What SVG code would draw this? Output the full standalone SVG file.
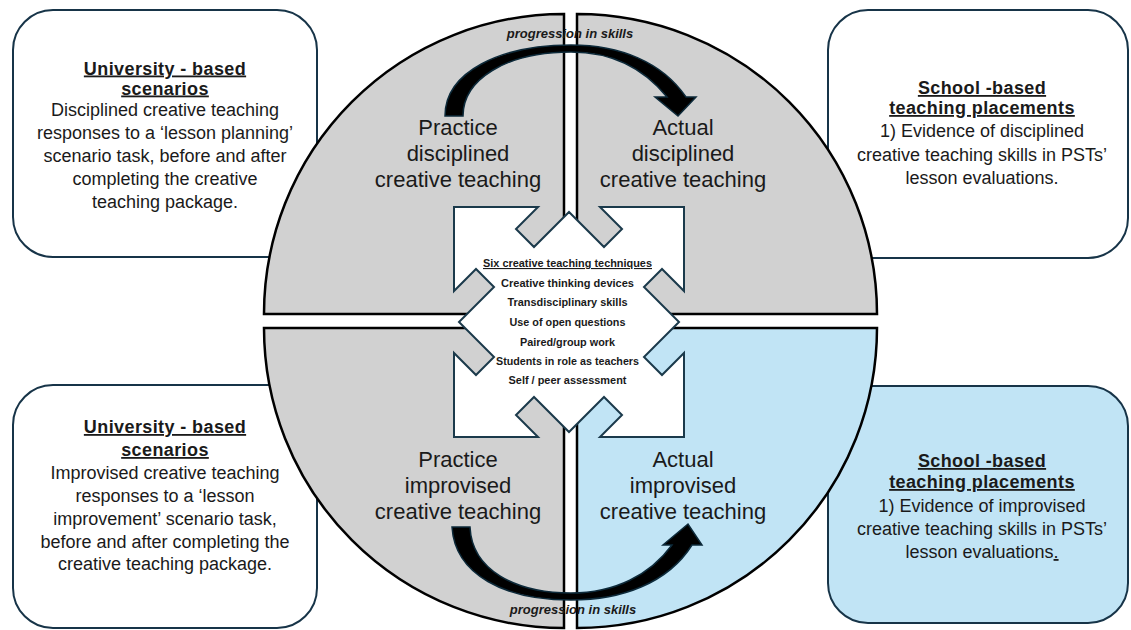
<svg xmlns="http://www.w3.org/2000/svg" width="1131" height="630" viewBox="0 0 1131 630">
<style>
.box{fill:#ffffff;stroke:#173448;stroke-width:2}
.boxb{fill:#c1e4f5;stroke:#173448;stroke-width:2}
.q{fill:#d1d1d1;stroke:#000;stroke-width:2.5}
.qb{fill:#c1e4f5;stroke:#000;stroke-width:2.5}
.hd{font-family:"Liberation Sans",Arial,sans-serif;font-size:18px;font-weight:bold;letter-spacing:0.4px;fill:#1a1a1a;text-anchor:middle;text-decoration:underline}
.bd{font-family:"Liberation Sans",Arial,sans-serif;font-size:18px;fill:#1a1a1a;text-anchor:middle}
.ql{font-family:"Liberation Sans",Arial,sans-serif;font-size:22px;fill:#1a1a1a;text-anchor:middle}
.ct{font-family:"Liberation Sans Narrow","Liberation Sans",Arial,sans-serif;font-size:11px;font-weight:bold;fill:#1a1a1a;text-anchor:middle}
.pg{font-family:"Liberation Sans",Arial,sans-serif;font-size:13px;font-weight:bold;font-style:italic;fill:#1a1a1a;text-anchor:middle}
.arr{fill:#000;stroke:#0d2a3a;stroke-width:1.5;stroke-linejoin:miter}
</style>

<g id="box-top-left">
<rect class="box" x="13" y="10" width="304" height="247" rx="40"/>
<text class="hd" x="165" y="74.5">University - based</text>
<text class="hd" x="165" y="94.5">scenarios</text>
<text class="bd" x="165" y="115.5">Disciplined creative teaching</text>
<text class="bd" x="165" y="138.5">responses to a ‘lesson planning’</text>
<text class="bd" x="165" y="161.5">scenario task, before and after</text>
<text class="bd" x="165" y="184.5">completing the creative</text>
<text class="bd" x="165" y="207.5">teaching package.</text>
</g>

<g id="box-top-right">
<rect class="box" x="828" y="10" width="300" height="248" rx="40"/>
<text class="hd" x="982" y="94">School -based</text>
<text class="hd" x="982" y="114">teaching placements</text>
<text class="bd" x="982" y="137">1) Evidence of disciplined</text>
<text class="bd" x="982" y="160.5">creative teaching skills in PSTs’</text>
<text class="bd" x="982" y="184">lesson evaluations.</text>
</g>

<g id="box-bottom-left">
<rect class="box" x="13" y="385" width="304" height="243" rx="40"/>
<text class="hd" x="165" y="433">University - based</text>
<text class="hd" x="165" y="456">scenarios</text>
<text class="bd" x="165" y="479">Improvised creative teaching</text>
<text class="bd" x="165" y="502">responses to a ‘lesson</text>
<text class="bd" x="165" y="525">improvement’ scenario task,</text>
<text class="bd" x="165" y="547.5">before and after completing the</text>
<text class="bd" x="165" y="570">creative teaching package.</text>
</g>

<g id="box-bottom-right">
<rect class="boxb" x="828" y="386" width="300" height="237" rx="40"/>
<text class="hd" x="982" y="467">School -based</text>
<text class="hd" x="982" y="488">teaching placements</text>
<text class="bd" x="982" y="512">1) Evidence of improvised</text>
<text class="bd" x="982" y="535">creative teaching skills in PSTs’</text>
<text class="bd" x="982" y="558">lesson evaluations<tspan text-decoration="underline">.</tspan></text>
</g>

<g id="quadrant-practice-disciplined">
<path class="q" d="M564,314 H264 A300,300 0 0 1 564,14 Z"/>
</g>
<g id="quadrant-actual-disciplined">
<path class="q" d="M577,314 V14 A300,300 0 0 1 877,314 Z"/>
</g>
<g id="quadrant-practice-improvised">
<path class="q" d="M564,328 H264 A300,300 0 0 0 564,628 Z"/>
</g>
<g id="quadrant-actual-improvised">
<path class="qb" d="M577,328 H877 A300,300 0 0 1 577,628 Z"/>
</g>

<g id="centre-techniques">
<path fill="#ffffff" stroke="#1b3a4b" stroke-width="2" stroke-linejoin="miter" d="M454,207 H538 L516,229 L534,247 L569,212 L604,247 L622,229 L600,207 H684 V291 L662,269 L644,287 L679,322 L644,357 L662,375 L684,353 V437 H600 L622,415 L604,397 L569,432 L534,397 L516,415 L538,437 H454 V353 L476,375 L494,357 L459,322 L494,287 L476,269 L454,291 Z"/>
<text class="ct" x="567.5" y="267" textLength="169" lengthAdjust="spacingAndGlyphs" text-decoration="underline">Six creative teaching techniques</text>
<text class="ct" x="567.5" y="286.5" textLength="133" lengthAdjust="spacingAndGlyphs"><tspan text-decoration="underline"> </tspan>Creative thinking devices</text>
<text class="ct" x="567.5" y="306" textLength="120" lengthAdjust="spacingAndGlyphs">Transdisciplinary skills</text>
<text class="ct" x="567.5" y="326" textLength="116" lengthAdjust="spacingAndGlyphs">Use of open questions</text>
<text class="ct" x="567.5" y="345.5" textLength="95" lengthAdjust="spacingAndGlyphs">Paired/group work</text>
<text class="ct" x="567.5" y="365" textLength="143" lengthAdjust="spacingAndGlyphs">Students in role as teachers</text>
<text class="ct" x="567.5" y="384" textLength="118" lengthAdjust="spacingAndGlyphs">Self / peer assessment</text>
</g>

<g id="labels">
<text class="ql" x="458" y="135">Practice</text>
<text class="ql" x="458" y="161">disciplined</text>
<text class="ql" x="458" y="187">creative teaching</text>
<text class="ql" x="683" y="135">Actual</text>
<text class="ql" x="683" y="161">disciplined</text>
<text class="ql" x="683" y="187">creative teaching</text>
<text class="ql" x="458" y="466.5">Practice</text>
<text class="ql" x="458" y="492.5">improvised</text>
<text class="ql" x="458" y="518.5">creative teaching</text>
<text class="ql" x="683" y="466.5">Actual</text>
<text class="ql" x="683" y="492.5">improvised</text>
<text class="ql" x="683" y="518.5">creative teaching</text>
</g>

<g id="connectors">
<path class="arr" d="M445,116 L463,116 C463,80 505,52 571,52 C615,52 645,70 667,97 L655,97 L678,116 L696,97 L686,97 C662,62 620,45 571,45 C500,45 445,72 445,116 Z"/>
<text class="pg" x="570" y="38">progression in skills</text>
<path class="arr" d="M452,527 L470,527 C472,570 515,593 571,593 C615,593 650,575 672,545 L663,545 L688,524 L702,545 L692,545 C668,583 622,600 571,600 C505,600 455,575 452,527 Z"/>
<text class="pg" x="573" y="614">progression in skills</text>
</g>
</svg>
